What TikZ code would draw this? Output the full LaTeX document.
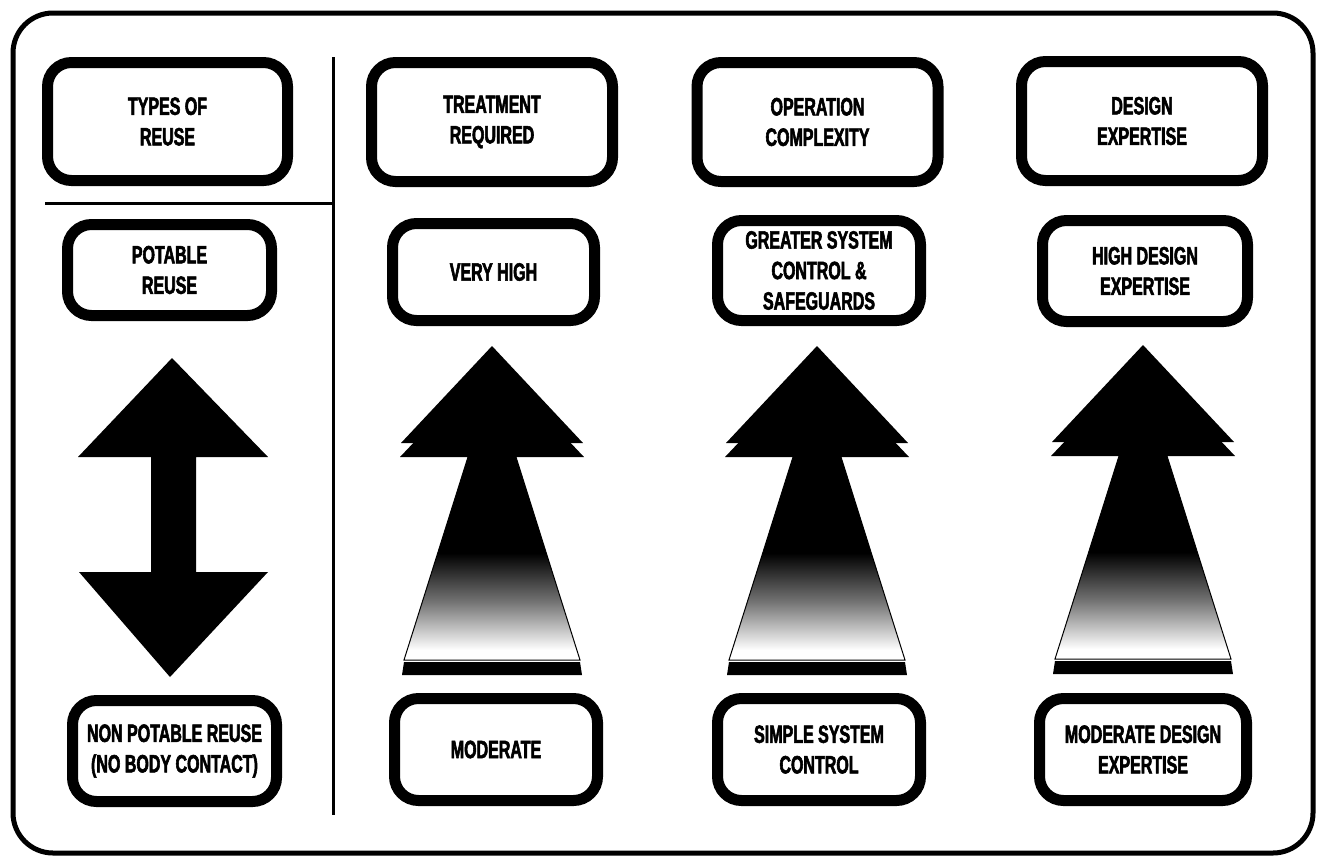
\documentclass[tikz,border=0pt]{standalone}
\usepackage{fontspec}
\newfontfamily\lab[FakeStretch=0.64, FakeBold=2.2, UprightFont={* Bold}]{Liberation Sans}
\begin{document}
\begin{tikzpicture}[x=1pt,y=-1pt,
  box/.style={draw=black, line width=11pt, rounded corners=24pt, fill=white,
    align=center, inner sep=0pt,
    font=\lab\fontsize{25}{30.5}\selectfont},
  frame/.style={draw=black, line width=5pt, rounded corners=40pt},
  divider/.style={draw=black, line width=3pt},
  uparr/.pic={
    \begin{scope}
      \clip (-24,111) -- (24,111) -- (88,314) -- (-88,314) -- cycle;
      \fill[black] (-100,100) rectangle (100,208);
      \shade[top color=black, bottom color=white, middle color=black!55] (-100,207) rectangle (100,304);
      \fill[white] (-100,303.5) rectangle (100,320);
    \end{scope}
    \draw[black, line width=1pt] (-24,111) -- (24,111) -- (88,314) -- (-88,314) -- cycle;
    \fill[black] (-88,316) -- (88,316) -- (90,329) -- (-90,329) -- cycle;
    \fill[black] (0,14) -- (92,111) -- (-92,111) -- cycle;
    \fill[black] (0,0) -- (91,97) -- (-91,97) -- cycle;
  }]
\useasboundingbox (0,0) rectangle (1323,860);
\fill[white] (0,0) rectangle (1323,860);

% outer frame
\draw[frame] (13,13) rectangle (1313,853);

% dividers
\coordinate (vtop) at (333,57);
\coordinate (vbot) at (333,815);
\coordinate (hl) at (45,203);
\coordinate (hr) at (333,203);
\draw[divider] (vtop) -- (vbot);
\draw[divider] (hl) -- (hr);

% header boxes
\node[box, minimum width=240pt, minimum height=118pt] (types) at (167.5,121.5) {TYPES OF\\REUSE};
\node[box, minimum width=241pt, minimum height=119pt] (treat) at (492,122) {TREATMENT\\REQUIRED};
\node[box, minimum width=241pt, minimum height=119pt] (oper) at (817.5,122) {OPERATION\\COMPLEXITY};
\node[box, minimum width=241pt, minimum height=119pt] (design) at (1142,121) {DESIGN\\EXPERTISE};

% upper value boxes
\node[box, minimum width=204pt, minimum height=91pt] (potable) at (169.5,270) {POTABLE\\REUSE};
\node[box, minimum width=202pt, minimum height=97pt] (veryhigh) at (493.5,272) {VERY HIGH};
\node[box, minimum width=203pt, minimum height=100pt] (greater) at (819,270.5) {GREATER SYSTEM\\CONTROL \&\\SAFEGUARDS};
\node[box, minimum width=205pt, minimum height=101pt] (highdesign) at (1145,271) {HIGH DESIGN\\EXPERTISE};

% lower value boxes
\node[box, minimum width=204pt, minimum height=101pt] (nonpot) at (174.5,751) {NON POTABLE REUSE\\(NO BODY CONTACT)};
\node[box, minimum width=203pt, minimum height=102pt] (moderate) at (496,749.5) {MODERATE};
\node[box, minimum width=203pt, minimum height=102pt] (simple) at (819,749.5) {SIMPLE SYSTEM\\CONTROL};
\node[box, minimum width=207pt, minimum height=102pt] (moddesign) at (1143,749.5) {MODERATE DESIGN\\EXPERTISE};

% double arrow (left)
\fill[black] (172,358) -- (268,457) -- (196,457) -- (196,572) -- (268,572)
  -- (170,677) -- (79,572) -- (151,572) -- (151,457) -- (78,457) -- cycle;

% up arrows
\pic at (492,346) {uparr};
\pic at (817,346) {uparr};
\pic at (1143,345) {uparr};
\end{tikzpicture}
\end{document}
